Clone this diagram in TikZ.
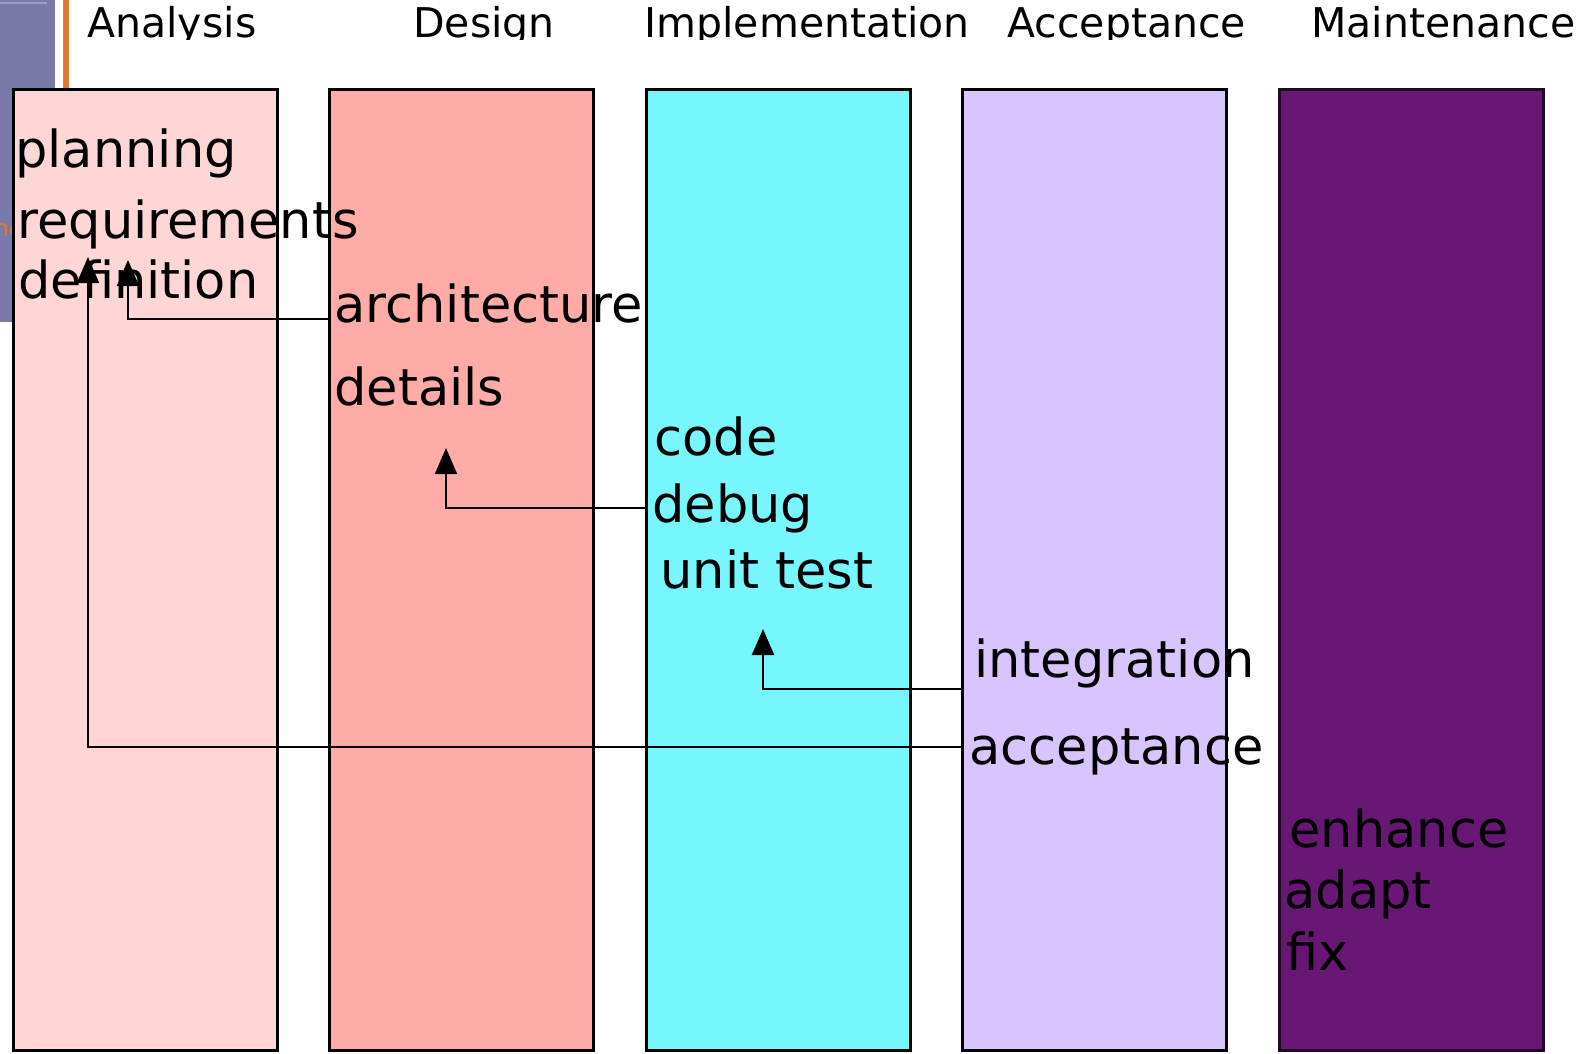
\documentclass[tikz,border=0pt]{standalone}
\usepackage{fontspec}
\setmainfont{DejaVu Sans}
\usetikzlibrary{arrows.meta}
\definecolor{cAna}{HTML}{FFD6D6}
\definecolor{cDes}{HTML}{FFABA8}
\definecolor{cImp}{HTML}{78F6FE}
\definecolor{cAcc}{HTML}{D8C4FE}
\definecolor{cMai}{HTML}{681874}
\definecolor{cMaiB}{HTML}{220A26}
\definecolor{slate}{HTML}{7A7AA8}
\definecolor{slatehi}{HTML}{9C9CC4}
\definecolor{orng}{HTML}{E07A30}
\begin{document}
\begin{tikzpicture}[x=0.5pt,y=-0.5pt,
  phase/.style={draw=black, line width=1.5pt, minimum width=132pt, minimum height=480pt, inner sep=0pt, outer sep=0pt},
  head/.style={anchor=base west, inner sep=0pt, font=\fontsize{20.5}{24}\selectfont},
  lbl/.style={anchor=base west, inner sep=0pt, font=\fontsize{25.5}{30}\selectfont},
  arr/.style={line width=1pt, -{Triangle[width=11pt,length=13pt]}}]
\useasboundingbox (0,0) rectangle (1585,1054);
% slide decoration at top left
\fill[slate] (0,0) rectangle (55,322);
\draw[slatehi, line width=0.6pt] (0,3) -- (47,3);
\fill[orng] (63,0) rectangle (69,90);
\node[anchor=base west, inner sep=0pt, text=orng, font=\fontsize{11.5}{13}\selectfont] (frag) at (-6,236) {ne};
% headers (clipped at the baseline)
\begin{scope}
\clip (0,0) rectangle (1585,40);
\node[head] (hAna) at (87,38) {Analysis};
\node[head] (hDes) at (413,38) {Design};
\node[head] (hImp) at (644,38) {Implementation};
\node[head] (hAcc) at (1007,38) {Acceptance};
\node[head] (hMai) at (1311,38) {Maintenance};
\end{scope}
% phase columns
\node[phase, fill=cAna] (ana) at (145,570) {};
\node[phase, fill=cDes] (des) at (461,570) {};
\node[phase, fill=cImp] (imp) at (778,570) {};
\node[phase, fill=cAcc] (acc) at (1094,570) {};
\node[phase, fill=cMai, draw=cMaiB] (mai) at (1411,570) {};
% labels
\node[lbl] (plan) at (15,168) {planning};
\node[lbl] (req) at (17,238) {requirements};
\node[lbl] (def) at (18,298) {definition};
\node[lbl] (arch) at (334,322) {architecture};
\node[lbl] (det) at (334,405) {details};
\node[lbl] (code) at (654,455) {code};
\node[lbl] (dbg) at (652,522) {debug};
\node[lbl] (unit) at (660,588) {unit test};
\node[lbl] (integ) at (974,677) {integration};
\node[lbl] (accl) at (969,764) {acceptance};
\node[lbl] (enh) at (1289,847) {enhance};
\node[lbl] (adapt) at (1284,908) {adapt};
\node[lbl] (fix) at (1286,970) {fix};
% feedback connectors
\coordinate (tReq) at (128,260);
\coordinate (tDef) at (88,257);
\coordinate (tDet) at (446,448);
\coordinate (tUnit) at (763,629);
\draw[arr] (des.west |- 0,319) -| (tReq);
\draw[arr] (acc.west |- 0,747) -| (tDef);
\draw[arr] (imp.west |- 0,508) -| (tDet);
\draw[arr] (acc.west |- 0,689) -| (tUnit);
\end{tikzpicture}
\end{document}
